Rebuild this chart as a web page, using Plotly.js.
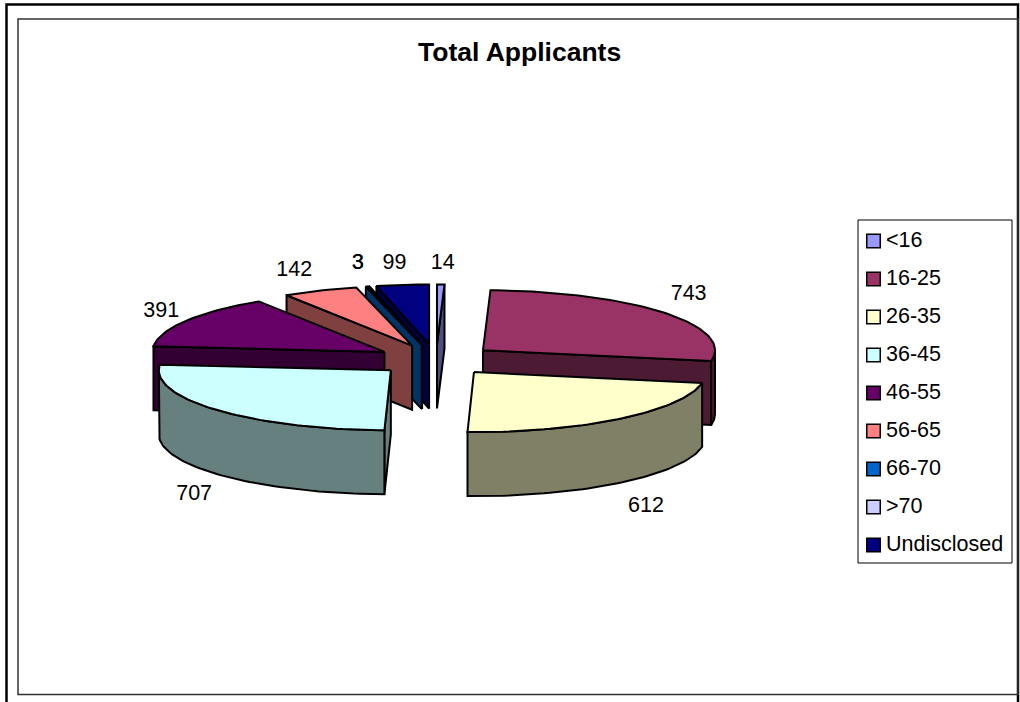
<!DOCTYPE html>
<html>
<head>
<meta charset="utf-8">
<script src="https://cdn.plot.ly/plotly-3.0.1.min.js"></script>
<style>html,body{margin:0;padding:0;background:#fff;overflow:hidden}#chart{width:1020px;height:702px}</style>
</head>
<body>
<div id="chart"></div>
<script>
// Applicant counts by age band
const categories = ['<16','16-25','26-35','36-45','46-55','56-65','66-70','>70','Undisclosed'];
const applicants = [14,743,612,707,391,142,3,3,99];
const topColors  = ['#9999FF','#993366','#FFFFCC','#CCFFFF','#660066','#FF8080','#0066CC','#CCCCFF','#000080'];

// Exploded pie drawn as a tilted disc: semi-axes, wall height, centre and explode fraction
const pie = {cx:436, cy:360, rx:232, ry:60, depth:64, explode:0.26};
// Data-label placement relative to the rim at each slice's mid angle
const labelShift = [[2,-21],[25,-18],[26,24],[-23,21],[-25,-9],[-26,-20],[-9,-23],[-10.5,-23],[-8,-21]];

const FONT = 'Liberation Sans, Arial, sans-serif';
const rad = d => d*Math.PI/180;
const total = applicants.reduce((a,b)=>a+b,0);

function shade(hex,f){
  const n = parseInt(hex.slice(1),16);
  const c = [n>>16,(n>>8)&255,n&255].map(v=>Math.round(v*f));
  return `rgb(${c.join(',')})`;
}

// Slice angles run clockwise from twelve o'clock
let running = 0;
const slices = applicants.map((v,i)=>{
  const start = running, sweep = v/total*360;
  running += sweep;
  const mid = start+sweep/2;
  return {i, start, end:start+sweep, mid,
    ax: pie.cx+pie.explode*pie.rx*Math.sin(rad(mid)),
    ay: pie.cy-pie.explode*pie.ry*Math.cos(rad(mid))};
});
const rim = (s,a)=>[s.ax+pie.rx*Math.sin(rad(a)), s.ay-pie.ry*Math.cos(rad(a))];
function arc(s,a0,a1){
  const n = Math.max(2,Math.ceil(Math.abs(a1-a0)/1.5));
  return Array.from({length:n+1},(_,k)=>rim(s,a0+(a1-a0)*k/n));
}
function poly(points,fill,width){
  const xs = points.map(p=>p[0]), ys = points.map(p=>p[1]);
  xs.push(xs[0]); ys.push(ys[0]);
  return {type:'scatter',mode:'lines',x:xs,y:ys,fill:'toself',fillcolor:fill,
    line:{color:'#000',width:width||2,shape:'linear'},hoverinfo:'skip',showlegend:false};
}
function cutFace(s,a,fill){
  const r = rim(s,a);
  return poly([[s.ax,s.ay],r,[r[0],r[1]+pie.depth],[s.ax,s.ay+pie.depth]],fill);
}

const traces = [];
// Paint from the far side of the disc to the near side
slices.slice().sort((p,q)=>Math.cos(rad(q.mid))-Math.cos(rad(p.mid))).forEach(s=>{
  const wall = shade(topColors[s.i],0.5);
  if (Math.cos(rad(s.start-90))<-1e-6) traces.push(cutFace(s,s.start,wall));
  if (Math.cos(rad(s.end+90))<-1e-6) traces.push(cutFace(s,s.end,wall));
  const a0 = Math.max(s.start,90), a1 = Math.min(s.end,270);
  if (a1>a0){
    const upper = arc(s,a0,a1);
    const lower = upper.map(p=>[p[0],p[1]+pie.depth]).reverse();
    traces.push(poly(upper.concat(lower),wall));
  }
  traces.push(poly([[s.ax,s.ay]].concat(arc(s,s.start,s.end)),topColors[s.i]));
});

// Value labels
traces.push({type:'scatter',mode:'text',hoverinfo:'skip',showlegend:false,
  x:slices.map(s=>rim(s,s.mid)[0]+labelShift[s.i][0]),
  y:slices.map(s=>rim(s,s.mid)[1]+labelShift[s.i][1]+(Math.cos(rad(s.mid))<0?pie.depth:0)),
  text:applicants.map(String),textposition:'middle center',
  textfont:{family:FONT,size:21.5,color:'#000'}});

// Key at the right of the plot
const keyLeft = 873.5, keyText = 886, keyTop = 241, keyStep = 38;
traces.push({type:'scatter',mode:'markers',hoverinfo:'skip',showlegend:false,
  x:categories.map(()=>keyLeft),
  y:categories.map((_,i)=>keyTop+i*keyStep),
  marker:{symbol:'square',size:13.5,color:topColors,line:{color:'#000',width:1.5}}});
traces.push({type:'scatter',mode:'text',hoverinfo:'skip',showlegend:false,
  x:categories.map(()=>keyText),
  y:categories.map((_,i)=>keyTop+1+i*keyStep),
  text:categories,textposition:'middle right',
  textfont:{family:FONT,size:21.5,color:'#000'}});

const frame = (x0,y0,x1,y1,color,w)=>({type:'rect',xref:'x',yref:'y',x0,y0,x1,y1,
  line:{color,width:w},fillcolor:'rgba(0,0,0,0)',layer:'below'});

const layout = {
  width:1020,height:702,margin:{l:0,r:0,t:0,b:0},
  paper_bgcolor:'#fff',plot_bgcolor:'#fff',showlegend:false,
  xaxis:{range:[0,1020],visible:false,fixedrange:true},
  yaxis:{range:[702,0],visible:false,fixedrange:true},
  shapes:[
    frame(6.5,4.5,1018,760,'#000',2.5),
    frame(18,19,1018,694.5,'#333',1.5),
    frame(858,220,1012,563,'#000',1)
  ],
  annotations:[{
    xref:'x',yref:'y',x:519.5,y:52,text:'<b>Total Applicants</b>',showarrow:false,
    font:{family:FONT,size:26.5,color:'#000'}
  }]
};
Plotly.newPlot('chart',traces,layout,{displayModeBar:false,staticPlot:true});
</script>
</body>
</html>
